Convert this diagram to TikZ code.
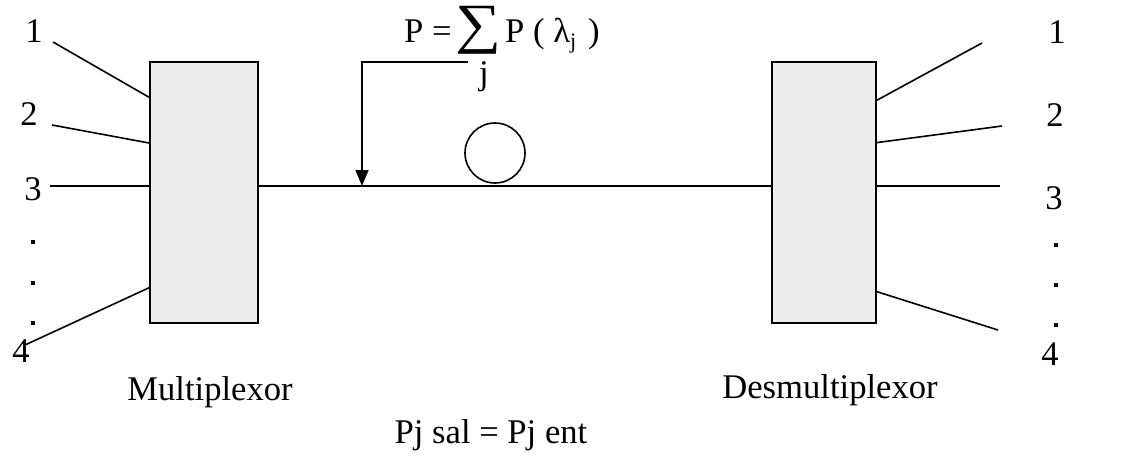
\documentclass[tikz,border=0pt]{standalone}
\usepackage{fontspec}
\setmainfont{Liberation Serif}
\usetikzlibrary{arrows.meta}
\begin{document}
\begin{tikzpicture}[x=1pt,y=-1pt,
  lbl/.style={inner sep=0pt,anchor=base,font=\fontsize{34.6}{40}\selectfont},
  muxbox/.style={draw,line width=2pt,fill=black!7,minimum width=#1,minimum height=261pt,inner sep=0pt},
  wire/.style={line width=1.6pt},
  dotmark/.style={rectangle,fill=black,inner sep=0pt,minimum size=4.5pt}]
\useasboundingbox (0,0) rectangle (1136,456);
% boxes
\node[muxbox=108pt] (mux) at (204,192.5) {};
\node[muxbox=104pt] (dmx) at (824,192) {};
% fiber circle
\node[draw,circle,line width=1.6pt,minimum size=60pt,inner sep=0pt] (fib) at (495,153) {};
% free ends
\coordinate (a1) at (53,42);
\coordinate (a2) at (52,125);
\coordinate (a3) at (50,186);
\coordinate (a4) at (25,345);
\coordinate (b1) at (982,43);
\coordinate (b2) at (1002,126);
\coordinate (b3) at (1000,186);
\coordinate (b4) at (998,330);
% left wires
\draw[wire] (a1) -- (mux.120.28);
\draw[wire] (a2) -- (mux.138.67);
\draw[wire] (a3) -- (a3 -| mux.west);
\draw[wire] (a4) -- (mux.240.52);
% right wires
\draw[wire] (b1) -- (dmx.60.52);
\draw[wire] (b2) -- (dmx.43.30);
\draw[wire] (b3) -- (b3 -| dmx.east);
\draw[wire] (b4) -- (dmx.-62.05);
% main link
\draw[wire] (a3 -| mux.east) -- (a3 -| dmx.west);
% arrow from formula
\coordinate (k) at (468,62);
\coordinate (tip) at (362,186);
\draw[wire,-{Triangle[length=16pt,width=13pt]}] (k) -| (tip);
% labels left
\node[lbl] (l1) at (34,42) {1};
\node[lbl] (l2) at (29,125) {2};
\node[lbl] (l3) at (33,200) {3};
\node[dotmark] (ld1) at (33,242) {};
\node[dotmark] (ld2) at (33,283) {};
\node[dotmark] (ld3) at (33,323) {};
\node[lbl] (l4) at (21,362) {4};
% labels right
\node[lbl] (r1) at (1057,43) {1};
\node[lbl] (r2) at (1055,126) {2};
\node[lbl] (r3) at (1054,209) {3};
\node[dotmark] (rd1) at (1056,245) {};
\node[dotmark] (rd2) at (1056,285) {};
\node[dotmark] (rd3) at (1056,325) {};
\node[lbl] (r4) at (1050,365) {4};
% captions
\node[lbl] (cmux) at (210,400) {Multiplexor};
\node[lbl] (cdmx) at (830,398) {Desmultiplexor};
\node[lbl] (cpj) at (491,443) {Pj sal = Pj ent};
% formula
\node[lbl,anchor=base west] (fP) at (404,42) {P =};
\node[inner sep=0pt] (fsum) at (478,30) {\resizebox*{46pt}{48pt}{\fontsize{34.6}{40}\selectfont ∑}};
\node[lbl] (fj) at (484,84) {j};
\node[lbl,anchor=base west] (fP2) at (505,42) {P ( λ\raisebox{-6pt}{\fontsize{22}{22}\selectfont j}\hspace{12pt})};
\end{tikzpicture}
\end{document}
